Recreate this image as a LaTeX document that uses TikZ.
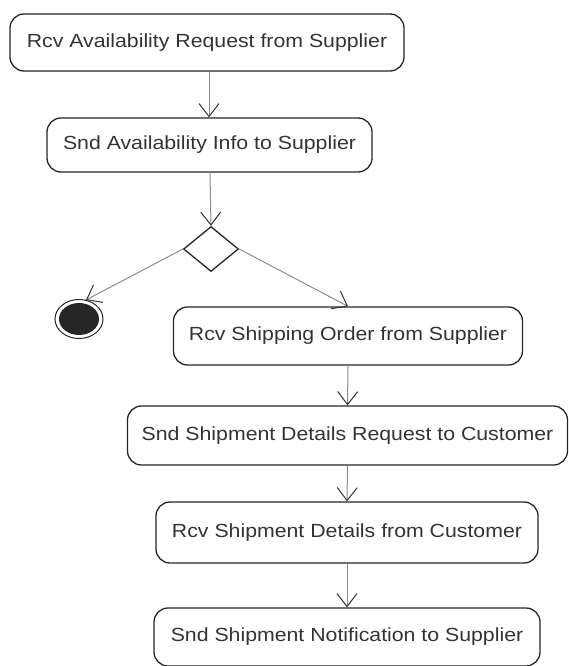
\documentclass[tikz,border=0pt]{standalone}
\usepackage{fontspec}
\setmainfont[FakeStretch=1.12]{Liberation Sans}
\usetikzlibrary{arrows.meta,shapes.geometric}
\begin{document}
\begin{tikzpicture}[x=1pt,y=-1pt,
  action/.style={draw=black!85,line width=1.3pt,rounded corners=14pt,
    inner sep=0pt,font=\fontsize{19}{22}\selectfont,text=black!80},
  flow/.style={draw=black!45,line width=1pt,
    -{Straight Barb[length=13pt,width=20pt,line width=1pt,color=black!80]}},
  choice/.style={draw=black!85,line width=1.3pt,diamond,aspect=1.2,
    minimum width=55pt,minimum height=45pt,inner sep=0pt}]
  \useasboundingbox (0,0) rectangle (569,666);
  % activities
  \node[action,minimum width=394pt,minimum height=57pt] (a1) at (207,42.5)
    {Rcv Availability Request from Supplier};
  \node[action,minimum width=325pt,minimum height=54pt] (a2) at (209.5,145)
    {Snd Availability Info to Supplier};
  \node[choice] (d) at (211,249) {};
  \node[action,minimum width=349pt,minimum height=58pt] (a3) at (348,336)
    {Rcv Shipping Order from Supplier};
  \node[action,minimum width=440pt,minimum height=59pt] (a4) at (347.5,435.5)
    {Snd Shipment Details Request to Customer};
  \node[action,minimum width=382pt,minimum height=61pt] (a5) at (347,532.5)
    {Rcv Shipment Details from Customer};
  \node[action,minimum width=386pt,minimum height=58pt] (a6) at (347,637)
    {Snd Shipment Notification to Supplier};
  % final state
  \coordinate (fin) at (79,319);
  \draw[line width=1pt,draw=black!85] (fin) ellipse [x radius=24pt,y radius=19.5pt];
  \fill[black!85] (fin) ellipse [x radius=20pt,y radius=16pt];
  \coordinate (finTop) at (86,300);
  % transitions
  \draw[flow] (a1.south -| 209,0) -- (a2.north -| 209,0);
  \draw[flow] (a2.south -| 210,0) -- (d.north);
  \draw[flow] (d.west) -- (finTop);
  \draw[flow] (d.east) -- (a3.north);
  \draw[flow] (a3.south) -- (a4.north);
  \draw[flow] (a4.south) -- (a5.north);
  \draw[flow] (a5.south) -- (a6.north);
\end{tikzpicture}
\end{document}
